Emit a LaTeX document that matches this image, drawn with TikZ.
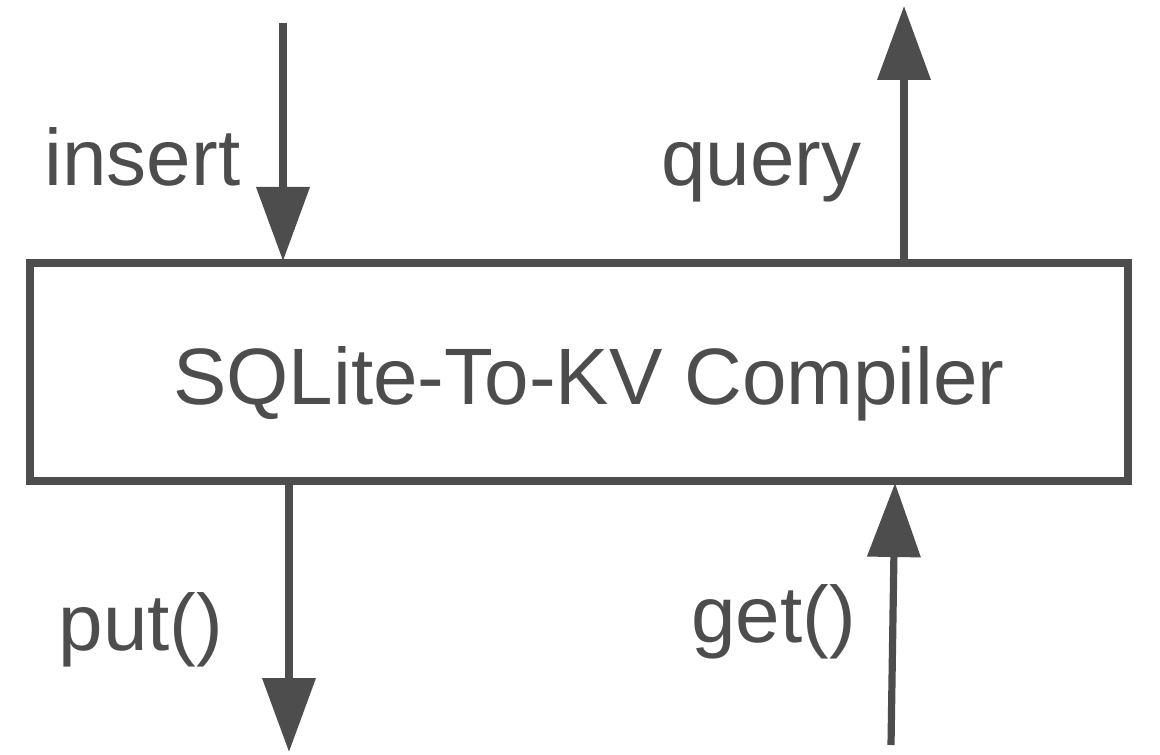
\documentclass[tikz,border=0pt]{standalone}
\usepackage{fontspec}
\setmainfont{Liberation Sans}
\usepackage{xcolor}
\usetikzlibrary{arrows.meta}

\definecolor{inkgray}{RGB}{77,77,77}

\begin{document}
\begin{tikzpicture}[x=0.5pt, y=-0.5pt]
    \def\lw{4pt}

    % --- DEFINE STYLES ---
    % Style for the compiler box
    \tikzstyle{stage} = [draw=inkgray, line width=\lw, minimum width=549pt, minimum height=109pt, inner sep=0pt, text=inkgray, text height=32pt, text depth=0pt]
    % Style for the in/out arrows
    \tikzstyle{flow} = [draw=inkgray, line width=3.6pt, -{Triangle[length=37pt, width=26pt]}, shorten >=-1pt]
    % Style for arrow labels
    \tikzstyle{tag} = [text=inkgray, anchor=base, inner sep=0pt]

    \useasboundingbox (0,0) rectangle (1160,754);
    \fontsize{40}{48}\selectfont

    % Compiler box (text sits a little right of centre)
    \node[stage] (compiler) at (579,372) {\hspace*{10pt}SQLite-To-KV Compiler};

    % --- ARROW ENDS ---
    \coordinate (insertsrc) at (283,23);
    \coordinate (querydst) at (904,8);
    \coordinate (putdst) at (289,750);
    \coordinate (getsrc) at (891,745);
    \coordinate (getx) at (895,0);

    % --- ARROWS ---
    \draw[flow] (insertsrc) -- (insertsrc |- compiler.north);
    \draw[flow] (querydst |- compiler.north) -- (querydst);
    \draw[flow] (putdst |- compiler.south) -- (putdst);
    \draw[flow] (getsrc) -- (getx |- compiler.south);

    % Labels
    \node[tag] (insertlbl) at (142.5,186) {insert};
    \node[tag] (querylbl) at (761.5,186) {query};
    \node[tag] (putlbl) at (141,650) {put()};
    \node[tag] (getlbl) at (773.5,642) {get()};
\end{tikzpicture}
\end{document}
